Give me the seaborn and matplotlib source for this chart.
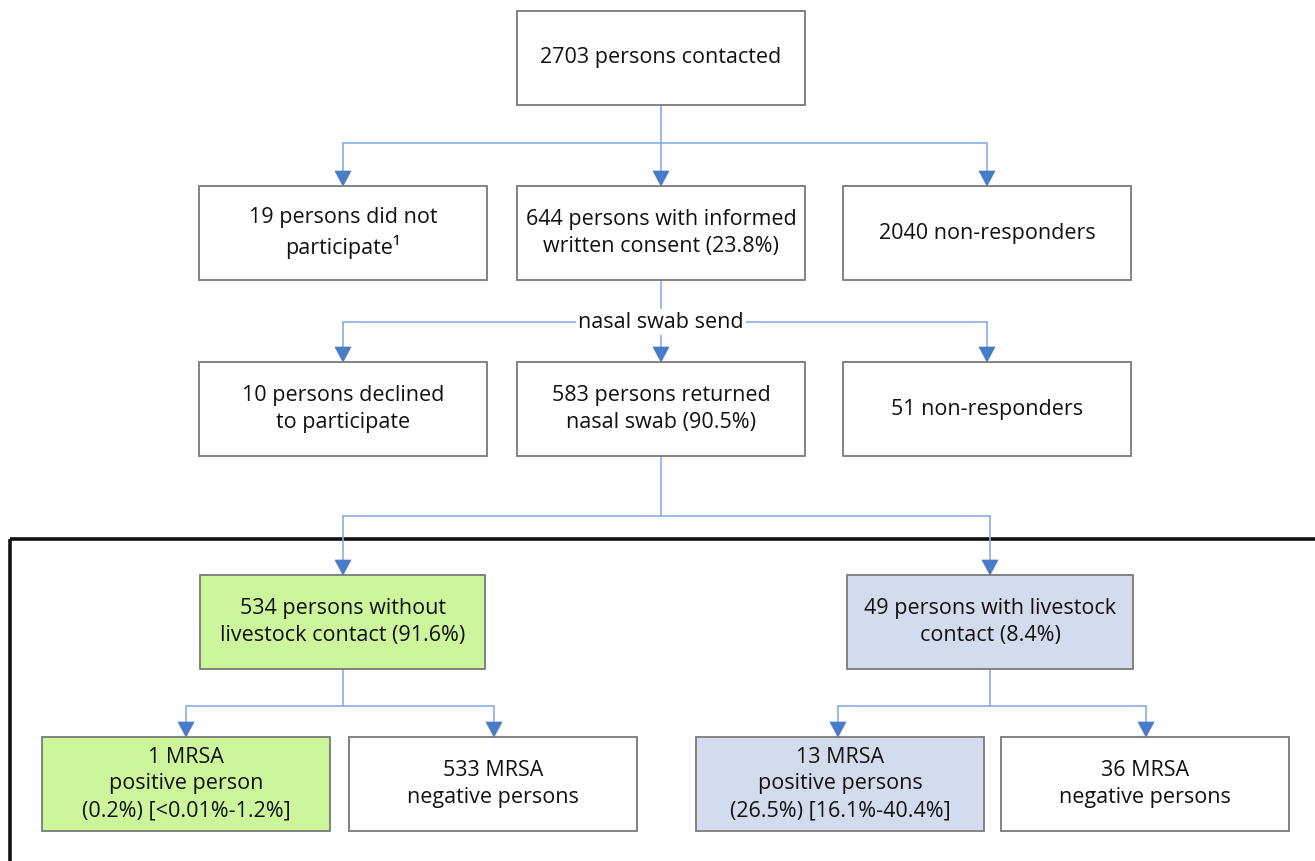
import matplotlib
matplotlib.use("Agg")
import matplotlib.pyplot as plt
from matplotlib.patches import Rectangle, Polygon
import seaborn as sns

sns.set_theme(style="white")
plt.rcParams['font.family'] = ['Open Sans', 'DejaVu Sans']

# box texts, one list per row of the flow chart
row1_labels = ["2703 persons contacted"]
row2_labels = ["19 persons did not\nparticipate\u00b9",
               "644 persons with informed\nwritten consent (23.8%)",
               "2040 non-responders"]
row3_labels = ["10 persons declined\nto participate",
               "583 persons returned\nnasal swab (90.5%)",
               "51 non-responders"]
row4_labels = ["534 persons without\nlivestock contact (91.6%)",
               "49 persons with livestock\ncontact (8.4%)"]
row5_labels = ["1 MRSA\npositive person\n(0.2%) [<0.01%-1.2%]",
               "533 MRSA\nnegative persons",
               "13 MRSA\npositive persons\n(26.5%) [16.1%-40.4%]",
               "36 MRSA\nnegative persons"]
step_label = "nasal swab send"

green = "#ccf59c"
blue = "#d3dced"
arrow_col = "#4a7bc8"
line_col = "#8aaee0"
edge_col = "#7a7a7a"

W, H = 1315, 861
fig = plt.figure(figsize=(W / 100, H / 100), dpi=100)
ax = fig.add_axes([0, 0, 1, 1])
ax.set_xlim(0, W)
ax.set_ylim(H, 0)
ax.axis("off")

BW, BH = 288, 94
FS = 15.5


def box(cx, top, text, fc="white", w=BW):
    ax.add_patch(Rectangle((cx - w / 2, top), w, BH, facecolor=fc,
                           edgecolor=edge_col, lw=1.3, zorder=2))
    ax.text(cx, top + BH / 2, text, ha="center", va="center", fontsize=FS,
            color="#111111", linespacing=1.36, zorder=3)


def arrow_down(x, y0, y1):
    ax.plot([x, x], [y0, y1 - 12], color=line_col, lw=1.2, zorder=1)
    ax.add_patch(Polygon([(x - 8, y1 - 15), (x + 8, y1 - 15), (x, y1)],
                         closed=True, facecolor=arrow_col, edgecolor=arrow_col,
                         lw=0.5, zorder=3))


def branch(src_x, src_y, bar_y, targets, tgt_y):
    ax.plot([src_x, src_x], [src_y, bar_y], color=line_col, lw=1.2, zorder=1)
    ax.plot([min(targets), max(targets)], [bar_y, bar_y], color=line_col,
            lw=1.2, zorder=1)
    for tx in targets:
        arrow_down(tx, bar_y, tgt_y)


cols3 = [343, 661, 987]

# row 1
box(661, 11, row1_labels[0])
branch(661, 105, 143, cols3, 186)

# row 2
for cx, lab in zip(cols3, row2_labels):
    box(cx, 186, lab)
branch(661, 280, 322, cols3, 362)
ax.text(661, 322, step_label, ha="center", va="center", fontsize=FS,
        color="#111111", zorder=4,
        bbox=dict(facecolor="white", edgecolor="none", pad=1.5))

# row 3
for cx, lab in zip(cols3, row3_labels):
    box(cx, 362, lab)
branch(661, 456, 516, [343, 990], 575)

# framed lower part
ax.add_patch(Rectangle((10, 539), 1340, 400, facecolor="none",
                       edgecolor="#111111", lw=2.6, zorder=0.5))

# row 4
box(343, 575, row4_labels[0], fc=green, w=285)
box(990, 575, row4_labels[1], fc=blue, w=286)
branch(343, 668, 706, [186, 494], 737)
branch(990, 668, 706, [838, 1146], 737)

# row 5
for cx, lab, fc in zip([186, 493, 840, 1145], row5_labels,
                       [green, "white", blue, "white"]):
    box(cx, 737, lab, fc=fc)

fig.savefig("out.png", dpi=100)
